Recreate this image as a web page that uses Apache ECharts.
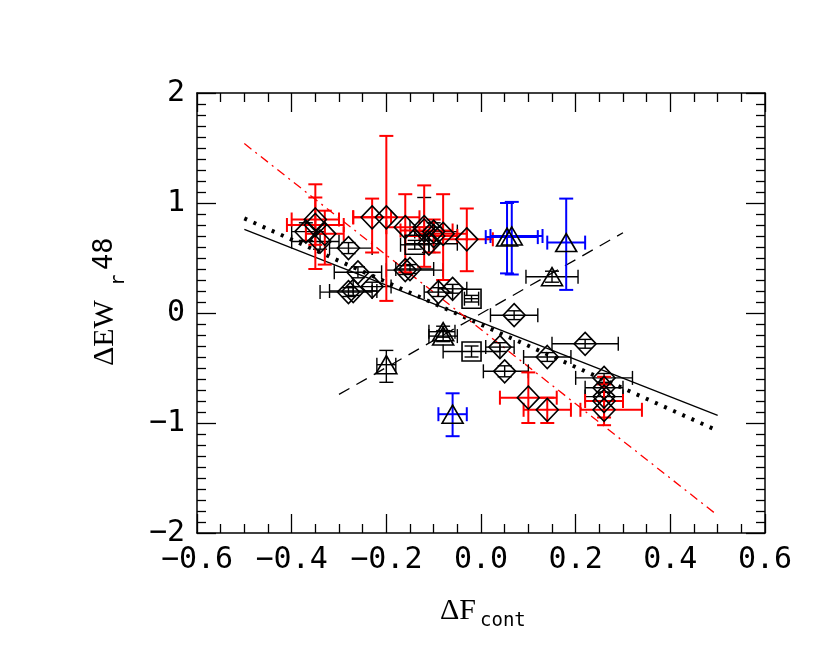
<!DOCTYPE html>
<html>
<head>
<meta charset="utf-8">
<script src="https://cdn.jsdelivr.net/npm/echarts@6/dist/echarts.min.js"></script>
<style>
html, body { margin: 0; background: #fff; }
#main { width: 830px; height: 664px; }
</style>
</head>
<body>
<div id="main"></div>
<script>
// each row: [x, y, xLow, xHigh, yLow, yHigh]
var blackDiamonds = [
  [-0.37, 0.74, -0.40, -0.33, 0.66, 0.82],
  [-0.34, 0.65, -0.40, -0.30, 0.58, 0.72],
  [-0.28, 0.59, -0.32, -0.23, 0.54, 0.64],
  [-0.26, 0.37, -0.31, -0.21, 0.32, 0.42],
  [-0.23, 0.24, -0.27, -0.19, 0.20, 0.28],
  [-0.28, 0.19, -0.34, -0.23, 0.15, 0.23],
  [-0.27, 0.20, -0.32, -0.22, 0.16, 0.24],
  [-0.16, 0.39, -0.20, -0.08, 0.35, 0.43],
  [-0.15, 0.40, -0.18, -0.10, 0.36, 0.44],
  [-0.12, 0.78, -0.15, -0.08, 0.70, 1.05],
  [-0.11, 0.63, -0.16, -0.05, 0.55, 0.72],
  [-0.10, 0.74, -0.14, -0.05, 0.66, 0.82],
  [-0.09, 0.19, -0.12, -0.06, 0.15, 0.23],
  [-0.06, 0.22, -0.09, -0.03, 0.18, 0.26],
  [0.07, -0.02, 0.02, 0.12, -0.06, 0.02],
  [0.04, -0.31, 0.01, 0.07, -0.35, -0.27],
  [0.05, -0.53, 0.005, 0.10, -0.58, -0.48],
  [0.14, -0.40, 0.09, 0.19, -0.44, -0.36],
  [0.22, -0.28, 0.15, 0.29, -0.32, -0.24],
  [0.26, -0.59, 0.20, 0.32, -0.63, -0.55],
  [0.26, -0.68, 0.22, 0.30, -0.72, -0.64],
  [0.26, -0.76, 0.22, 0.30, -0.80, -0.72]
];
var redDiamonds = [
  [-0.35, 0.85, -0.40, -0.30, 0.40, 1.17],
  [-0.35, 0.80, -0.41, -0.29, 0.62, 1.05],
  [-0.33, 0.72, -0.37, -0.29, 0.44, 0.93],
  [-0.23, 0.87, -0.27, -0.19, 0.55, 1.04],
  [-0.20, 0.87, -0.27, -0.13, 0.11, 1.61],
  [-0.16, 0.78, -0.20, -0.10, 0.37, 1.08],
  [-0.12, 0.75, -0.17, -0.06, 0.42, 1.16],
  [-0.08, 0.72, -0.13, -0.03, 0.30, 1.08],
  [-0.10, 0.70, -0.16, -0.05, 0.55, 0.85],
  [-0.03, 0.67, -0.08, 0.025, 0.38, 0.95],
  [0.10, -0.77, 0.04, 0.16, -1.00, -0.54],
  [0.14, -0.88, 0.09, 0.19, -1.00, -0.77],
  [0.26, -0.88, 0.21, 0.34, -1.02, -0.58],
  [0.26, -0.80, 0.22, 0.30, -0.95, -0.65]
];
var blackTriangles = [
  [-0.20, -0.47, -0.22, -0.18, -0.63, -0.34],
  [-0.08, -0.17, -0.11, -0.055, -0.22, -0.12],
  [-0.08, -0.21, -0.11, -0.05, -0.26, -0.16],
  [0.15, 0.33, 0.095, 0.205, 0.28, 0.38]
];
var blueTriangles = [
  [0.055, 0.69, 0.01, 0.12, 0.36, 1.00],
  [0.065, 0.70, 0.02, 0.13, 0.35, 1.01],
  [0.18, 0.64, 0.14, 0.22, 0.21, 1.04],
  [-0.06, -0.92, -0.09, -0.03, -1.12, -0.73]
];
var blackSquares = [
  [-0.02, 0.13, -0.035, -0.005, 0.10, 0.16],
  [-0.02, -0.35, -0.08, 0.04, -0.40, -0.30],
  [-0.14, 0.62, -0.17, -0.11, 0.58, 0.66]
];
// fitted lines, end points
var fitSolid = [[-0.5, 0.76], [0.5, -0.93]];
var fitDotted = [[-0.5, 0.86], [0.5, -1.07]];
var fitRed = [[-0.5, 1.54], [0.5, -1.84]];
var fitDashed = [[-0.3, -0.74], [0.3, 0.73]];

var chart = echarts.init(document.getElementById('main'));

function minusSign(s) {
  return String(s).replace('-', '\u2212');
}

// error bars with caps
function errorBars(color, width) {
  return function (params, api) {
    var x = api.value(0), y = api.value(1);
    var l = api.coord([api.value(2), y]);
    var r = api.coord([api.value(3), y]);
    var b = api.coord([x, api.value(4)]);
    var t = api.coord([x, api.value(5)]);
    var c = 7;
    var st = { stroke: color, lineWidth: width, fill: null };
    function seg(x1, y1, x2, y2) {
      return { type: 'line', shape: { x1: x1, y1: y1, x2: x2, y2: y2 }, style: st };
    }
    return {
      type: 'group',
      children: [
        seg(l[0], l[1], r[0], r[1]),
        seg(l[0], l[1] - c, l[0], l[1] + c),
        seg(r[0], r[1] - c, r[0], r[1] + c),
        seg(b[0], b[1], t[0], t[1]),
        seg(b[0] - c, b[1], b[0] + c, b[1]),
        seg(t[0] - c, t[1], t[0] + c, t[1])
      ]
    };
  };
}

function barSeries(data, color, width) {
  return {
    type: 'custom',
    renderItem: errorBars(color, width),
    encode: { x: [0, 2, 3], y: [1, 4, 5] },
    data: data,
    silent: true,
    z: 3
  };
}

function markSeries(data, symbol, size) {
  return {
    type: 'scatter',
    data: data.map(function (d) { return [d[0], d[1]]; }),
    symbol: symbol,
    symbolSize: size,
    itemStyle: { color: 'rgba(0,0,0,0)', borderColor: '#000', borderWidth: 1.6, opacity: 1 },
    silent: true,
    z: 4
  };
}

function lineSeries(data, color, width, dash) {
  return {
    type: 'line',
    data: data,
    showSymbol: false,
    symbol: 'none',
    lineStyle: { color: color, width: width, type: dash },
    silent: true,
    z: 2
  };
}

var tickStyle = { color: '#000', width: 1.3 };
function xAx(pos, labels) {
  return {
    type: 'value', position: pos, min: -0.6, max: 0.6, interval: 0.2,
    axisLine: { show: true, onZero: false, lineStyle: { color: '#000', width: 1.5 } },
    axisTick: { show: true, inside: true, length: 19, lineStyle: tickStyle },
    minorTick: { show: true, splitNumber: 4, length: 9, lineStyle: tickStyle },
    splitLine: { show: false },
    axisLabel: {
      show: labels, margin: 12, color: '#000',
      fontFamily: 'DejaVu Sans Mono', fontSize: 30,
      formatter: function (v) { return minusSign(v.toFixed(1)); }
    }
  };
}
function yAx(pos, labels) {
  return {
    type: 'value', position: pos, min: -2, max: 2, interval: 1,
    axisLine: { show: true, onZero: false, lineStyle: { color: '#000', width: 1.5 } },
    axisTick: { show: true, inside: true, length: 19, lineStyle: tickStyle },
    minorTick: { show: true, splitNumber: 10, length: 9, lineStyle: tickStyle },
    splitLine: { show: false },
    axisLabel: {
      show: labels, margin: 12, color: '#000',
      fontFamily: 'DejaVu Sans Mono', fontSize: 30,
      formatter: function (v) { return minusSign(v); }
    }
  };
}

var option = {
  backgroundColor: '#fff',
  animation: false,
  grid: { left: 197, top: 93, width: 568, height: 440 },
  xAxis: [xAx('bottom', true), xAx('top', false)],
  yAxis: [yAx('left', true), yAx('right', false)],
  series: [
    lineSeries(fitSolid, '#000', 1.3, 'solid'),
    lineSeries(fitDotted, '#000', 4, [3, 7]),
    lineSeries(fitRed, '#ff0000', 1.3, [9, 5, 2, 5]),
    lineSeries(fitDashed, '#000', 1.3, [12, 8]),
    barSeries(blackDiamonds, '#000', 1.4),
    barSeries(redDiamonds, '#ff0000', 2),
    barSeries(blackTriangles, '#000', 1.4),
    barSeries(blueTriangles, '#0000ff', 2),
    barSeries(blackSquares, '#000', 1.4),
    markSeries(blackDiamonds, 'diamond', [22, 23]),
    markSeries(redDiamonds, 'diamond', [22, 23]),
    markSeries(blackTriangles, 'triangle', [21, 18]),
    markSeries(blueTriangles, 'triangle', [21, 18]),
    markSeries(blackSquares, 'rect', [19, 19])
  ],
  graphic: [
    {
      type: 'group', left: 440, top: 596,
      children: [
        { type: 'text', x: 0, y: 0, style: { text: '\u0394F', font: '30px "Liberation Serif"', fill: '#000' } },
        { type: 'text', x: 40, y: 16, style: { text: 'cont', font: '19px "DejaVu Sans Mono"', fill: '#000' } }
      ]
    },
    {
      type: 'group', x: 105, y: 366, rotation: Math.PI / 2,
      children: [
        { type: 'text', x: 0, y: 0, style: { text: '\u0394EW', font: '30px "Liberation Serif"', fill: '#000', verticalAlign: 'middle' } },
        { type: 'text', x: 80, y: 14, style: { text: 'r', font: '19px "DejaVu Sans Mono"', fill: '#000', verticalAlign: 'middle' } },
        { type: 'text', x: 96, y: 0, style: { text: '48', font: '27px "DejaVu Sans Mono"', fill: '#000', verticalAlign: 'middle' } }
      ]
    }
  ]
};
chart.setOption(option);
</script>
</body>
</html>
